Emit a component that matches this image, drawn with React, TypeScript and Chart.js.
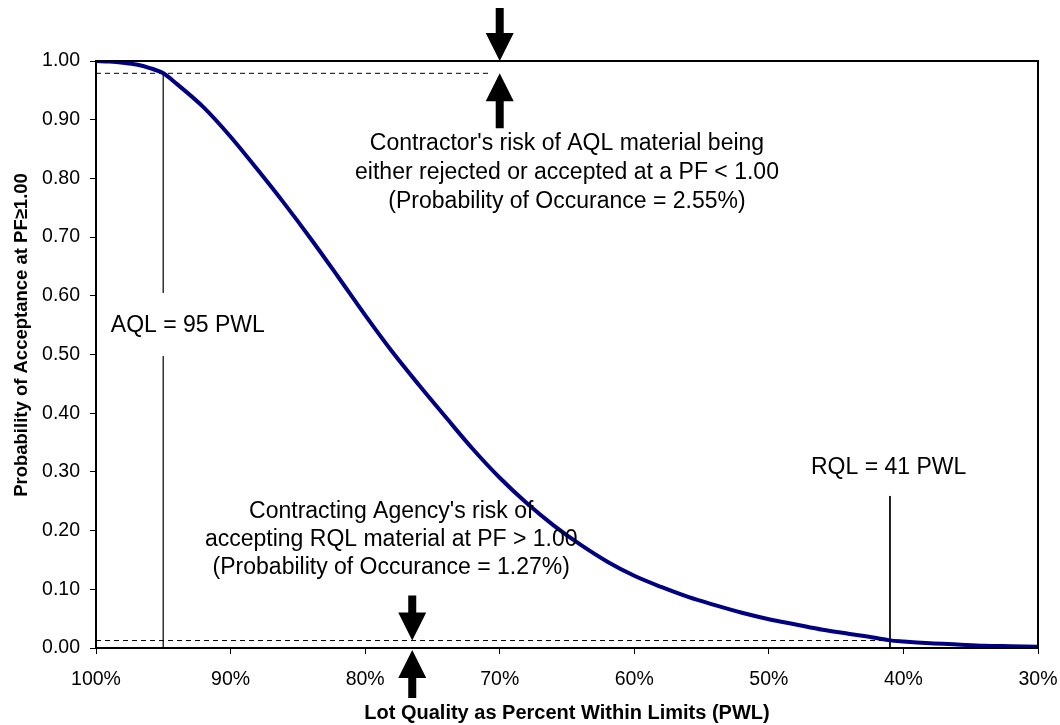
import React, { useEffect, useRef } from "react";
import { Chart, registerables } from "chart.js";

Chart.register(...registerables);

// Operating characteristic curve
const pwlValues = [100, 99, 98, 97, 96, 95, 94, 92, 90, 88, 86, 84, 82, 80, 78, 76, 74, 72, 70, 68, 66, 64, 62, 60, 58, 56, 54, 52, 50, 48, 46, 44, 42, 41, 40, 38, 36, 34, 32, 30];
const probAccept = [1.0, 0.999, 0.997, 0.994, 0.988, 0.979, 0.961, 0.921, 0.871, 0.815, 0.757, 0.696, 0.632, 0.567, 0.505, 0.448, 0.393, 0.339, 0.29, 0.247, 0.209, 0.176, 0.147, 0.123, 0.104, 0.087, 0.073, 0.06, 0.049, 0.04, 0.031, 0.024, 0.017, 0.013, 0.011, 0.008, 0.006, 0.004, 0.003, 0.002];

const xTicks = [100, 90, 80, 70, 60, 50, 40, 30];
const yTicks = [0, 0.1, 0.2, 0.3, 0.4, 0.5, 0.6, 0.7, 0.8, 0.9, 1.0];

const AQL = 95;
const RQL = 41;
const contractorLevel = 0.979;
const agencyLevel = 0.0127;
const contractorArrowX = 70;
const agencyArrowX = 76.5;

const contractorText = [
  "Contractor's risk of AQL material being",
  "either rejected or accepted at a PF < 1.00",
  "(Probability of Occurance = 2.55%)",
];
const agencyText = [
  "Contracting Agency's risk of",
  "accepting RQL material at PF > 1.00",
  "(Probability of Occurance = 1.27%)",
];
const aqlLabel = "AQL = 95 PWL";
const rqlLabel = "RQL = 41 PWL";
const xTitle = "Lot Quality as Percent Within Limits (PWL)";
const yTitle = "Probability of Acceptance at PF\u22651.00";

const FONT = '"Liberation Sans", Arial, Helvetica, sans-serif';

function drawArrow(ctx: CanvasRenderingContext2D, x: number, tipY: number, tailY: number) {
  const dir = tailY < tipY ? 1 : -1; // 1 = points down
  const headLen = 28;
  const headHalf = 14;
  const shaftHalf = 4;
  const baseY = tipY - dir * headLen;
  ctx.save();
  ctx.fillStyle = "#000";
  ctx.beginPath();
  ctx.moveTo(x, tipY);
  ctx.lineTo(x - headHalf, baseY);
  ctx.lineTo(x - shaftHalf, baseY);
  ctx.lineTo(x - shaftHalf, tailY);
  ctx.lineTo(x + shaftHalf, tailY);
  ctx.lineTo(x + shaftHalf, baseY);
  ctx.lineTo(x + headHalf, baseY);
  ctx.closePath();
  ctx.fill();
  ctx.restore();
}

const decorPlugin = {
  id: "decor",
  afterDraw(chart: any) {
    const { ctx, chartArea, scales } = chart;
    const xs = scales.x;
    const ys = scales.y;
    ctx.save();
    // frame
    ctx.strokeStyle = "#000";
    ctx.lineWidth = 2;
    ctx.strokeRect(chartArea.left, chartArea.top, chartArea.right - chartArea.left, chartArea.bottom - chartArea.top);

    // annotations
    ctx.fillStyle = "#000";
    ctx.font = `23px ${FONT}`;
    ctx.textBaseline = "middle";
    ctx.textAlign = "center";
    const cx = xs.getPixelForValue(65);
    const cy = ys.getPixelForValue(0.859);
    contractorText.forEach((t, i) => ctx.fillText(t, cx, cy + i * 29));
    const ax = xs.getPixelForValue(78.06);
    const ay = ys.getPixelForValue(0.2317);
    agencyText.forEach((t, i) => ctx.fillText(t, ax, ay + i * 28));
    ctx.fillText(rqlLabel, xs.getPixelForValue(RQL + 0.1), ys.getPixelForValue(0.3066));
    ctx.textAlign = "left";
    ctx.fillText(aqlLabel, xs.getPixelForValue(98.9), ys.getPixelForValue(0.549));

    // arrows
    const tx = xs.getPixelForValue(contractorArrowX);
    const topY = ys.getPixelForValue(1.0);
    drawArrow(ctx, tx, topY, topY - 53);
    const cl = ys.getPixelForValue(contractorLevel);
    drawArrow(ctx, tx, cl, cl + 55);
    const bx = xs.getPixelForValue(agencyArrowX);
    const al = ys.getPixelForValue(agencyLevel);
    drawArrow(ctx, bx, al, al - 45);
    const zeroY = ys.getPixelForValue(0);
    drawArrow(ctx, bx, zeroY + 2, zeroY + 50);

    // axis titles
    ctx.textAlign = "center";
    ctx.font = `bold 20px ${FONT}`;
    ctx.fillText(xTitle, (chartArea.left + chartArea.right) / 2, 713);
    ctx.font = `bold 18.5px ${FONT}`;
    ctx.translate(22, 335);
    ctx.rotate(-Math.PI / 2);
    ctx.fillText(yTitle, 0, 0);
    ctx.restore();
  },
};

export default function App() {
  const ref = useRef<HTMLCanvasElement | null>(null);
  useEffect(() => {
    if (!ref.current) return;
    const curve = pwlValues.map((x, i) => ({ x, y: probAccept[i] }));
    const thin = { borderColor: "#000", borderWidth: 1, pointRadius: 0, fill: false, tension: 0 };
    const chart = new Chart(ref.current, {
      type: "line",
      data: {
        datasets: [
          {
            label: "OC curve",
            data: curve,
            borderColor: "#000080",
            borderWidth: 4,
            pointRadius: 0,
            fill: false,
            cubicInterpolationMode: "monotone",
          },
          { ...thin, label: "contractor level", data: [{ x: 100, y: contractorLevel }, { x: contractorArrowX + 0.7, y: contractorLevel }], borderDash: [5, 4] },
          { ...thin, label: "agency level", data: [{ x: 100, y: agencyLevel }, { x: RQL, y: agencyLevel }], borderDash: [5, 4] },
          { ...thin, label: "AQL upper", data: [{ x: AQL, y: contractorLevel }, { x: AQL, y: 0.605 }], borderColor: "#333" },
          { ...thin, label: "AQL lower", data: [{ x: AQL, y: 0.497 }, { x: AQL, y: 0 }], borderColor: "#333" },
          { ...thin, label: "RQL", data: [{ x: RQL, y: 0.259 }, { x: RQL, y: 0 }] },
        ] as any,
      },
      options: {
        animation: false,
        responsive: false,
        maintainAspectRatio: false,
        devicePixelRatio: 1,
        layout: { padding: { top: 61, right: 22, left: 0, bottom: 0 } },
        plugins: { legend: { display: false }, tooltip: { enabled: false }, title: { display: false } },
        scales: {
          x: {
            type: "linear",
            min: 30,
            max: 100,
            reverse: true,
            afterFit: (s: any) => { s.height = 77; s.paddingLeft = 0; s.paddingRight = 0; },
            afterBuildTicks: (s: any) => { s.ticks = xTicks.map((v) => ({ value: v })); },
            ticks: {
              color: "#000",
              font: { family: FONT, size: 19.5 },
              padding: 14,
              maxRotation: 0,
              callback: (v: any) => `${v}%`,
            },
            grid: { drawOnChartArea: false, drawTicks: true, tickLength: 6, color: "#000", lineWidth: 1 },
            border: { display: false },
          },
          y: {
            type: "linear",
            min: 0,
            max: 1,
            afterFit: (s: any) => { s.width = 96; s.paddingTop = 0; s.paddingBottom = 0; },
            afterBuildTicks: (s: any) => { s.ticks = yTicks.map((v) => ({ value: v })); },
            ticks: {
              color: "#000",
              font: { family: FONT, size: 19.5 },
              padding: 10,
              callback: (v: any) => Number(v).toFixed(2),
            },
            grid: { drawOnChartArea: false, drawTicks: true, tickLength: 6, color: "#000", lineWidth: 1 },
            border: { display: false },
          },
        },
      } as any,
      plugins: [decorPlugin],
    });
    return () => chart.destroy();
  }, []);
  return (
    <div style={{ position: "fixed", left: 0, top: 0, width: 1060, height: 725, background: "#fff" }}>
      <canvas ref={ref} width={1060} height={725} style={{ width: 1060, height: 725, display: "block" }} />
    </div>
  );
}
